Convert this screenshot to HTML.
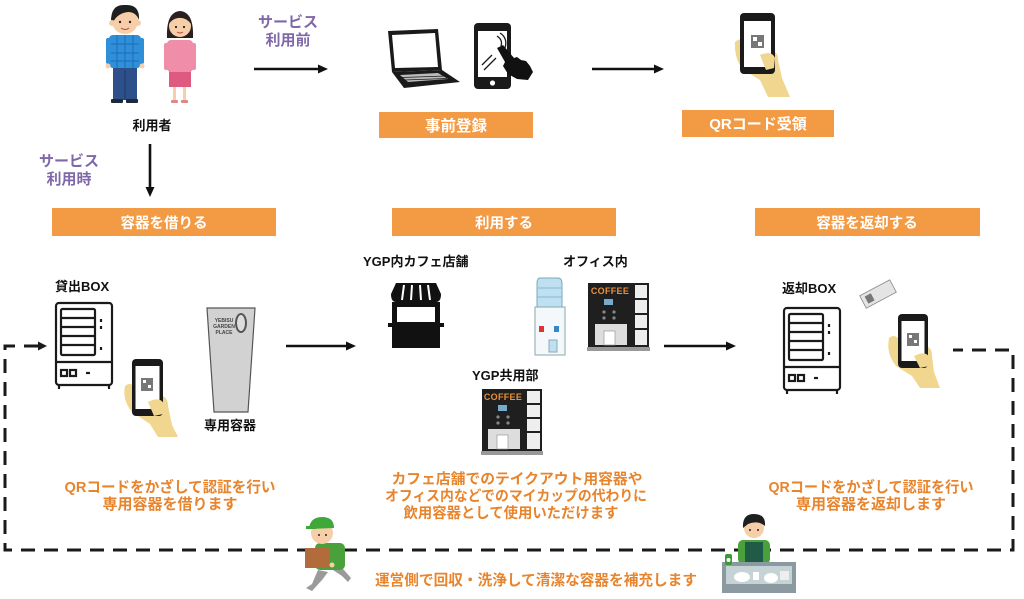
<!DOCTYPE html>
<html><head><meta charset="utf-8">
<style>
html,body{margin:0;padding:0;background:#fff;}
svg{display:block;}
text{font-family:"Liberation Sans","Noto Sans CJK JP",sans-serif;font-weight:bold;}
</style></head>
<body>
<svg width="1024" height="599" viewBox="0 0 1024 599" xmlns="http://www.w3.org/2000/svg">
<rect width="1024" height="599" fill="#fff"/>

<!-- ===== People ===== -->
<!-- man -->
<g>
  <rect x="113" y="66" width="24" height="34" fill="#2d4f8a"/>
  <line x1="125" y1="70" x2="125" y2="100" stroke="#1f3a6a" stroke-width="1"/>
  <rect x="111" y="99" width="12" height="4" rx="1" fill="#1e2a3a"/>
  <rect x="126" y="99" width="12" height="4" rx="1" fill="#1e2a3a"/>
  <rect x="109" y="35" width="32" height="33" rx="4" fill="#2f8fd8"/>
  <g stroke="#1d6fb5" stroke-width="1">
    <line x1="109" y1="44" x2="141" y2="44"/><line x1="109" y1="53" x2="141" y2="53"/><line x1="109" y1="61" x2="141" y2="61"/>
    <line x1="117" y1="35" x2="117" y2="68"/><line x1="125" y1="35" x2="125" y2="68"/><line x1="133" y1="35" x2="133" y2="68"/>
  </g>
  <rect x="106" y="38" width="5" height="26" rx="2" fill="#2f8fd8"/>
  <rect x="139" y="38" width="5" height="26" rx="2" fill="#2f8fd8"/>
  <circle cx="108" cy="66" r="2.5" fill="#f6cfa9"/><circle cx="142" cy="66" r="2.5" fill="#f6cfa9"/>
  <circle cx="125" cy="21" r="13" fill="#f6cfa9"/>
  <path d="M111 21 Q111 4 125 5 Q140 4 139 20 Q136 12 128 12 Q118 13 113 22 Z" fill="#1f1f1f"/>
  <circle cx="112" cy="23" r="3" fill="#f6cfa9"/><circle cx="138" cy="23" r="3" fill="#f6cfa9"/>
  <circle cx="120" cy="22" r="1.2" fill="#222"/><circle cx="130" cy="22" r="1.2" fill="#222"/>
  <path d="M121 28 Q125 31 129 28" stroke="#b44" stroke-width="1" fill="none"/>
</g>
<!-- woman -->
<g>
  <rect x="173" y="86" width="3" height="15" fill="#f6cfa9"/>
  <rect x="183" y="86" width="3" height="15" fill="#f6cfa9"/>
  <rect x="171" y="100" width="7" height="3" rx="1" fill="#d88"/>
  <rect x="181" y="100" width="7" height="3" rx="1" fill="#d88"/>
  <rect x="169" y="70" width="22" height="17" fill="#de5a80"/>
  <rect x="167" y="40" width="26" height="32" rx="4" fill="#f08eaa"/>
  <rect x="164" y="43" width="5" height="27" rx="2" fill="#f08eaa"/>
  <rect x="191" y="43" width="5" height="27" rx="2" fill="#f08eaa"/>
  <path d="M167 38 Q166 12 180 11 Q194 12 193 38 Z" fill="#2a2020"/>
  <circle cx="180" cy="26" r="11" fill="#f6cfa9"/>
  <path d="M169 24 Q170 13 180 13 Q191 13 191 24 Q186 17 178 18 Q172 19 169 24 Z" fill="#2a2020"/>
  <circle cx="176" cy="27" r="1.1" fill="#222"/><circle cx="184" cy="27" r="1.1" fill="#222"/>
  <path d="M177 32 Q180 34 183 32" stroke="#b44" stroke-width="1" fill="none"/>
</g>
<text x="152" y="130" font-size="13" fill="#111" text-anchor="middle">利用者</text>

<!-- purple labels -->
<text x="288" y="27" font-size="15" fill="#7f68a8" text-anchor="middle">サービス</text>
<text x="288" y="45" font-size="15" fill="#7f68a8" text-anchor="middle">利用前</text>
<text x="69" y="166" font-size="15" fill="#7f68a8" text-anchor="middle">サービス</text>
<text x="69" y="184" font-size="15" fill="#7f68a8" text-anchor="middle">利用時</text>

<!-- solid arrows -->
<g stroke="#111" stroke-width="2.6" fill="#111">
  <line x1="254" y1="69" x2="320" y2="69"/>
  <polygon points="318,64.5 328,69 318,73.5" stroke="none"/>
  <line x1="592" y1="69" x2="656" y2="69"/>
  <polygon points="654,64.5 664,69 654,73.5" stroke="none"/>
  <line x1="150" y1="144" x2="150" y2="189"/>
  <polygon points="145.5,187 150,197 154.5,187" stroke="none"/>
  <line x1="286" y1="346" x2="348" y2="346"/>
  <polygon points="346,341.5 356,346 346,350.5" stroke="none"/>
  <line x1="664" y1="346" x2="728" y2="346"/>
  <polygon points="726,341.5 736,346 726,350.5" stroke="none"/>
</g>

<!-- laptop -->
<g>
  <polygon points="388,31 438,29 442,70 392,72" fill="#1a1a1a"/>
  <polygon points="392,35 435,33 438,67 395,68" fill="#fff"/>
  <polygon points="392,72 442,70 460,82 404,88" fill="#1a1a1a"/>
  <polygon points="400,75 438,73 448,79 408,82" fill="#bbb"/>
  <g stroke="#1a1a1a" stroke-width="0.7"><line x1="402" y1="77.5" x2="446" y2="76"/><line x1="404" y1="80" x2="447" y2="78.5"/></g>
</g>
<!-- phone + pointing hand -->
<g>
  <rect x="474" y="23" width="37" height="66" rx="4" fill="#1a1a1a"/>
  <rect x="478" y="31" width="29" height="46" fill="#fff"/>
  <circle cx="492.5" cy="83" r="2.6" fill="#fff"/>
  <path d="M482 65 L492 55 M484 70 L496 58" stroke="#1a1a1a" stroke-width="1.3"/>
  <path d="M497 36 Q503 40 501 46 M500 33 Q508 38 505 48" stroke="#1a1a1a" stroke-width="1.3" fill="none"/>
  <path d="M497 48 L503 45 L514 58 L517 57 L521 60 L526 61 L530 66 L533 72 L528 80 L517 79 L508 74 L503 66 L505 62 Z" fill="#111"/>
</g>

<!-- QR phone with hand (top) -->
<g>
  <path d="M735 42 Q742 36 748 44 L752 60 L770 52 Q778 50 778 60 L782 78 L790 97 L768 97 L760 80 L744 70 Q734 60 735 42 Z" fill="#f0d68e"/>
  <rect x="740" y="13" width="35" height="61" rx="4" fill="#1a1a1a"/>
  <rect x="744" y="21" width="27" height="46" fill="#fff"/>
  <rect x="751" y="35" width="13" height="13" fill="#777"/>
  <rect x="753" y="37" width="4" height="4" fill="#fff"/><rect x="758" y="42" width="4" height="4" fill="#fff"/>
  <path d="M760 55 Q772 50 775 58 L774 68 L766 70 Z" fill="#f0d68e"/>
</g>

<!-- orange boxes -->
<g fill="#f39a44">
  <rect x="379" y="112" width="154" height="26"/>
  <rect x="682" y="110" width="152" height="27"/>
  <rect x="52" y="208" width="224" height="28"/>
  <rect x="392" y="208" width="224" height="28"/>
  <rect x="755" y="208" width="225" height="28"/>
</g>
<g fill="#fff" text-anchor="middle">
  <text x="456" y="131" font-size="15.5">事前登録</text>
  <text x="758" y="129" font-size="15">QRコード受領</text>
  <text x="164" y="228" font-size="14.5">容器を借りる</text>
  <text x="504" y="228" font-size="14.5">利用する</text>
  <text x="867" y="228" font-size="14.5">容器を返却する</text>
</g>

<!-- dashed loop -->
<g stroke="#1a1a1a" stroke-width="3" fill="none" stroke-dasharray="14 9">
  <polyline points="38,346 5,346 5,550 1013,550 1013,350 953,350"/>
</g>
<polygon points="38,341.5 47,346 38,350.5" fill="#1a1a1a"/>

<!-- vending box left -->
<g fill="none" stroke="#1a1a1a" stroke-width="2.2">
  <rect x="56" y="303" width="56" height="82" rx="3"/>
  <rect x="61" y="309" width="34" height="46" rx="1.5"/>
  <line x1="56" y1="362" x2="112" y2="362"/>
  <line x1="61" y1="318" x2="95" y2="318"/><line x1="61" y1="327" x2="95" y2="327"/>
  <line x1="61" y1="336" x2="95" y2="336"/><line x1="61" y1="345" x2="95" y2="345"/>
  <rect x="61" y="370" width="6" height="6"/><rect x="70" y="370" width="6" height="6"/>
  <line x1="86" y1="373" x2="90" y2="373"/>
  <line x1="101" y1="319" x2="101" y2="322"/><line x1="101" y1="326" x2="101" y2="329"/><line x1="101" y1="347" x2="101" y2="350"/>
  <line x1="59" y1="385" x2="59" y2="389"/><line x1="109" y1="385" x2="109" y2="389"/>
</g>
<!-- phone hand left -->
<g>
  <path d="M125 386 Q132 380 138 392 L150 402 L160 396 Q168 396 168 406 L172 425 L178 437 L158 437 L150 424 L132 412 Q122 400 125 386 Z" fill="#f0d68e"/>
  <rect x="132" y="359" width="31" height="57" rx="4" fill="#1a1a1a"/>
  <rect x="135.5" y="366" width="24" height="43" fill="#fff"/>
  <rect x="141" y="378" width="12" height="13" fill="#777"/>
  <rect x="143" y="380" width="3" height="3" fill="#fff"/><rect x="148" y="385" width="3" height="3" fill="#fff"/>
  <path d="M148 402 Q160 396 164 404 L163 414 L154 416 Z" fill="#f0d68e"/>
</g>
<!-- cup -->
<g>
  <polygon points="207,308 255,308 248,412 214,412" fill="#d2d2d2" stroke="#555" stroke-width="1.2"/>
  <ellipse cx="241" cy="323" rx="6" ry="10" fill="#555"/>
  <ellipse cx="241" cy="323" rx="4" ry="8" fill="#ddd"/>
  <text x="224" y="322" font-size="5" fill="#444" text-anchor="middle" font-weight="normal">YEBISU</text>
  <text x="224" y="328" font-size="5" fill="#444" text-anchor="middle" font-weight="normal">GARDEN</text>
  <text x="224" y="334" font-size="5" fill="#444" text-anchor="middle" font-weight="normal">PLACE</text>
</g>
<text x="55" y="291" font-size="13" fill="#111">貸出BOX</text>
<text x="230" y="430" font-size="13" fill="#111" text-anchor="middle">専用容器</text>

<!-- shop icon -->
<g fill="#111">
  <path d="M391 294 L396 283 L436 283 L441 294 Q441 302 436 302 L396 302 Q391 302 391 294 Z"/>
  <rect x="392" y="302" width="48" height="46"/>
  <rect x="388" y="323" width="56" height="4"/>
</g>
<rect x="397" y="307" width="38" height="15" fill="#fff"/>
<g stroke="#fff" stroke-width="2"><line x1="404" y1="285" x2="402" y2="300"/><line x1="412" y1="285" x2="411" y2="300"/><line x1="420" y1="285" x2="421" y2="300"/><line x1="428" y1="285" x2="430" y2="300"/></g>

<!-- water dispenser -->
<g>
  <path d="M540 278 L558 278 Q562 278 562 284 L562 307 L537 307 L537 284 Q537 278 540 278 Z" fill="#bfe0f0" stroke="#7aaac0" stroke-width="1"/>
  <line x1="537" y1="288" x2="562" y2="288" stroke="#8ab8d0"/><line x1="537" y1="297" x2="562" y2="297" stroke="#8ab8d0"/>
  <rect x="535" y="307" width="30" height="48" fill="#f4f8fa" stroke="#8aa" stroke-width="1"/>
  <rect x="539" y="326" width="5" height="6" fill="#d33"/><rect x="554" y="326" width="5" height="6" fill="#38c"/>
  <rect x="549" y="340" width="8" height="12" fill="#bfe0f0" stroke="#8ab"/>
</g>
<!-- coffee machine office -->
<g>
  <rect x="588" y="283" width="45" height="64" fill="#1f1f1f"/>
  <text x="610" y="294" font-size="9" fill="#e8903a" text-anchor="middle" font-family="Liberation Sans" letter-spacing="0.3">COFFEE</text>
  <rect x="604" y="299" width="9" height="6" fill="#7ac"/>
  <circle cx="604" cy="312" r="1.6" fill="#888"/><circle cx="614" cy="312" r="1.6" fill="#888"/>
  <circle cx="604" cy="318" r="1.6" fill="#888"/><circle cx="614" cy="318" r="1.6" fill="#888"/>
  <rect x="595" y="324" width="32" height="21" fill="#ddd"/>
  <rect x="604" y="331" width="11" height="14" fill="#fff" stroke="#999" stroke-width="0.7"/>
  <rect x="633" y="283" width="16" height="64" fill="#1f1f1f"/>
  <rect x="635" y="285" width="12" height="13" fill="#eee"/><rect x="635" y="300" width="12" height="13" fill="#eee"/>
  <rect x="635" y="315" width="12" height="13" fill="#eee"/><rect x="635" y="330" width="12" height="15" fill="#eee"/>
  <rect x="587" y="347" width="63" height="4" fill="#999"/>
</g>
<!-- coffee machine YGP -->
<g>
  <rect x="482" y="389" width="43" height="62" fill="#1f1f1f"/>
  <text x="503" y="400" font-size="9" fill="#e8903a" text-anchor="middle" font-family="Liberation Sans" letter-spacing="0.3">COFFEE</text>
  <rect x="498" y="405" width="9" height="6" fill="#7ac"/>
  <circle cx="498" cy="417" r="1.6" fill="#888"/><circle cx="508" cy="417" r="1.6" fill="#888"/>
  <circle cx="498" cy="423" r="1.6" fill="#888"/><circle cx="508" cy="423" r="1.6" fill="#888"/>
  <rect x="488" y="429" width="32" height="20" fill="#ddd"/>
  <rect x="497" y="435" width="11" height="14" fill="#fff" stroke="#999" stroke-width="0.7"/>
  <rect x="525" y="389" width="17" height="62" fill="#1f1f1f"/>
  <rect x="527" y="391" width="13" height="12" fill="#eee"/><rect x="527" y="405" width="13" height="12" fill="#eee"/>
  <rect x="527" y="419" width="13" height="12" fill="#eee"/><rect x="527" y="433" width="13" height="16" fill="#eee"/>
  <rect x="481" y="451" width="62" height="4" fill="#999"/>
</g>
<text x="363" y="266" font-size="13" fill="#111">YGP内カフェ店舗</text>
<text x="563" y="266" font-size="13" fill="#111">オフィス内</text>
<text x="472" y="380" font-size="13" fill="#111">YGP共用部</text>

<!-- return box -->
<g fill="none" stroke="#1a1a1a" stroke-width="2.2">
  <rect x="784" y="308" width="56" height="82" rx="3"/>
  <rect x="789" y="314" width="34" height="46" rx="1.5"/>
  <line x1="784" y1="367" x2="840" y2="367"/>
  <line x1="789" y1="323" x2="823" y2="323"/><line x1="789" y1="332" x2="823" y2="332"/>
  <line x1="789" y1="341" x2="823" y2="341"/><line x1="789" y1="350" x2="823" y2="350"/>
  <rect x="789" y="375" width="6" height="6"/><rect x="798" y="375" width="6" height="6"/>
  <line x1="814" y1="378" x2="818" y2="378"/>
  <line x1="829" y1="324" x2="829" y2="327"/><line x1="829" y1="331" x2="829" y2="334"/><line x1="829" y1="352" x2="829" y2="355"/>
  <line x1="787" y1="390" x2="787" y2="394"/><line x1="837" y1="390" x2="837" y2="394"/>
</g>
<text x="782" y="293" font-size="13" fill="#111">返却BOX</text>
<!-- ticket -->
<g transform="rotate(-28 878 294)">
  <rect x="861" y="287" width="34" height="14" fill="#e4e4e4" stroke="#888" stroke-width="0.8"/>
  <rect x="865" y="290" width="7" height="8" fill="#777"/>
</g>
<!-- phone hand right -->
<g>
  <path d="M889 338 Q896 332 902 344 L914 352 L924 346 Q932 346 932 356 L934 372 L940 388 L920 388 L912 376 L896 366 Q886 354 889 338 Z" fill="#f0d68e"/>
  <rect x="898" y="314" width="30" height="54" rx="4" fill="#1a1a1a"/>
  <rect x="901.5" y="321" width="23" height="40" fill="#fff"/>
  <rect x="907" y="333" width="12" height="13" fill="#777"/>
  <rect x="909" y="335" width="3" height="3" fill="#fff"/><rect x="914" y="340" width="3" height="3" fill="#fff"/>
  <path d="M914 356 Q926 350 930 358 L929 366 L920 368 Z" fill="#f0d68e"/>
</g>

<!-- orange descriptions -->
<g fill="#e8842c" text-anchor="middle">
  <text x="170" y="492" font-size="15" textLength="211" lengthAdjust="spacingAndGlyphs">QRコードをかざして認証を行い</text>
  <text x="170" y="509" font-size="15">専用容器を借ります</text>
  <text x="517" y="484" font-size="14.5" textLength="251" lengthAdjust="spacingAndGlyphs">カフェ店舗でのテイクアウト用容器や</text>
  <text x="516" y="501" font-size="14.5" textLength="262" lengthAdjust="spacingAndGlyphs">オフィス内などでのマイカップの代わりに</text>
  <text x="511" y="518" font-size="14.5" textLength="215" lengthAdjust="spacingAndGlyphs">飲用容器として使用いただけます</text>
  <text x="871" y="492" font-size="15" textLength="205" lengthAdjust="spacingAndGlyphs">QRコードをかざして認証を行い</text>
  <text x="871" y="509" font-size="15">専用容器を返却します</text>
  <text x="536" y="585" font-size="14.6" textLength="322" lengthAdjust="spacingAndGlyphs">運営側で回収・洗浄して清潔な容器を補充します</text>
</g>

<!-- delivery man -->
<g>
  <path d="M318 570 L312 584 L306 588 L312 591 L322 580 L328 572 Z" fill="#9a9a9a"/>
  <path d="M330 568 L342 576 L348 582 L351 578 L344 570 L335 562 Z" fill="#9a9a9a"/>
  <rect x="315" y="543" width="30" height="27" rx="5" fill="#4aa13b"/>
  <circle cx="322" cy="533" r="11" fill="#f6cfa9"/>
  <path d="M309 529 Q310 517 322 517 Q334 517 334 528 Z" fill="#3ea83a"/>
  <rect x="306" y="526" width="10" height="3" fill="#3ea83a"/>
  <circle cx="319" cy="535" r="1" fill="#222"/><circle cx="326" cy="535" r="1" fill="#222"/>
  <rect x="305" y="548" width="25" height="20" fill="#b26b3a"/>
  <circle cx="332" cy="565" r="2.5" fill="#f6cfa9"/>
</g>

<!-- dishwasher person -->
<g>
  <rect x="738" y="540" width="32" height="24" rx="5" fill="#4aa13b"/>
  <rect x="745" y="542" width="18" height="22" fill="#1f5b46"/>
  <circle cx="754" cy="528" r="10" fill="#f6cfa9"/>
  <path d="M743 528 Q742 514 754 514 Q766 514 765 526 Q758 520 748 524 Z" fill="#1f1f1f"/>
  <circle cx="750" cy="530" r="1" fill="#222"/><circle cx="758" cy="530" r="1" fill="#222"/>
  <rect x="722" y="562" width="74" height="31" fill="#8a9aa0"/>
  <rect x="726" y="566" width="66" height="18" fill="#c5d2d6"/>
  <ellipse cx="742" cy="577" rx="8" ry="5" fill="#fff"/>
  <ellipse cx="771" cy="578" rx="7" ry="5" fill="#fff"/>
  <rect x="753" y="572" width="6" height="8" fill="#fff"/>
  <rect x="780" y="571" width="9" height="9" fill="#eee"/>
  <rect x="725" y="554" width="7" height="11" rx="2" fill="#3c9a34"/>
  <circle cx="728.5" cy="560" r="2" fill="#fff"/>
</g>
</svg>
</body></html>
